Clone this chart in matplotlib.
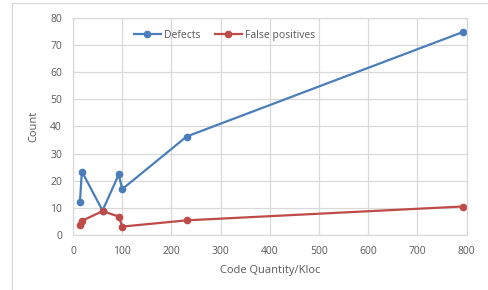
import matplotlib.pyplot as plt
from matplotlib.lines import Line2D

# values
kloc = [14, 18, 60, 93, 100, 231, 792]
defects = [12, 23.4, 9, 22.3, 16.9, 36.3, 74.8]
false_pos = [3.8, 5.2, 8.8, 6.8, 3.1, 5.4, 10.5]

x_ticks = [0, 100, 200, 300, 400, 500, 600, 700, 800]
y_ticks = [0, 10, 20, 30, 40, 50, 60, 70, 80]

BLUE = "#4a7ebb"
RED = "#be4b48"
TXT = "#595959"
GRID = "#d9d9d9"

plt.rcParams["font.family"] = ["Open Sans", "DejaVu Sans"]

fig = plt.figure(figsize=(4.89, 2.90), dpi=100)
ax = fig.add_axes([0.1493, 0.1897, 0.8050, 0.7483])

ax.plot(kloc, defects, color=BLUE, linewidth=1.6, marker="o",
        markersize=4.5, label="Defects")
ax.plot(kloc, false_pos, color=RED, linewidth=1.6, marker="o",
        markersize=4.5, label="False positives")

ax.set_xlim(0, 800)
ax.set_ylim(0, 80)
ax.set_xticks(x_ticks)
ax.set_yticks(y_ticks)
ax.grid(color=GRID, linewidth=0.9)
ax.set_axisbelow(True)
for s in ax.spines.values():
    s.set_color(GRID)
    s.set_linewidth(0.9)
ax.tick_params(length=0, labelsize=7.5, colors=TXT, pad=8)

ax.set_xlabel("Code Quantity/Kloc", fontsize=8, color=TXT, labelpad=6)
ax.set_ylabel("Count", fontsize=8, color=TXT, labelpad=8)

ax.legend(loc="upper left", bbox_to_anchor=(0.13, 0.99), ncol=2,
          frameon=False, fontsize=7.5, labelcolor=TXT, handlelength=2.6,
          handletextpad=0.3, columnspacing=1.4)

# outer chart frame (top and left edges visible in the crop)
fig.add_artist(Line2D([12 / 489, 1], [1 - 3 / 290, 1 - 3 / 290],
                      transform=fig.transFigure, color=GRID, linewidth=0.9))
fig.add_artist(Line2D([12 / 489, 12 / 489], [0, 1 - 3 / 290],
                      transform=fig.transFigure, color=GRID, linewidth=0.9))

fig.savefig("out.png", dpi=100)
